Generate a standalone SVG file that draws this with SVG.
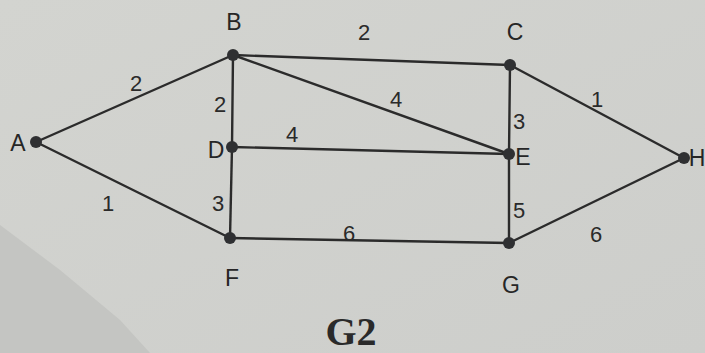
<svg xmlns="http://www.w3.org/2000/svg" width="705" height="353" viewBox="0 0 705 353">
<defs>
<linearGradient id="bg" x1="0" y1="0" x2="1" y2="1">
<stop offset="0" stop-color="#d3d4d0"/>
<stop offset="1" stop-color="#cdcecb"/>
</linearGradient>
<style>
.e{stroke:#2b2b2b;stroke-width:2.4;fill:none;stroke-linecap:round}
.n{fill:#2f3032}
.t{font-family:"Liberation Sans",Arial,sans-serif;font-size:23px;fill:#262626;text-anchor:middle}
.w{font-family:"Liberation Sans",Arial,sans-serif;font-size:22px;fill:#2a2a2a;text-anchor:middle}
.title{font-family:"Liberation Serif","Times New Roman",serif;font-size:40px;font-weight:bold;fill:#2a2a2a;text-anchor:middle}
</style>
</defs>
<rect width="705" height="353" fill="url(#bg)"/>
<polygon points="0,225 60,270 120,320 150,353 0,353" fill="#c4c5c2"/>
<g id="connectors">
<line class="e" x1="36" y1="142" x2="233" y2="55"/>
<line class="e" x1="36" y1="142" x2="230" y2="238"/>
<line class="e" x1="233" y1="55" x2="510" y2="65"/>
<line class="e" x1="233" y1="55" x2="232" y2="147"/>
<line class="e" x1="233" y1="55" x2="509" y2="154"/>
<line class="e" x1="232" y1="147" x2="509" y2="154"/>
<line class="e" x1="232" y1="147" x2="230" y2="238"/>
<line class="e" x1="230" y1="238" x2="509" y2="243"/>
<line class="e" x1="510" y1="65" x2="509" y2="154"/>
<line class="e" x1="509" y1="154" x2="509" y2="243"/>
<line class="e" x1="510" y1="65" x2="684" y2="158"/>
<line class="e" x1="509" y1="243" x2="684" y2="158"/>
<text class="w" x="136" y="91">2</text>
<text class="w" x="108" y="211">1</text>
<text class="w" x="364" y="40">2</text>
<text class="w" x="220" y="112">2</text>
<text class="w" x="396" y="107">4</text>
<text class="w" x="292" y="142">4</text>
<text class="w" x="218" y="211">3</text>
<text class="w" x="349" y="241">6</text>
<text class="w" x="519" y="129">3</text>
<text class="w" x="519" y="218">5</text>
<text class="w" x="597" y="107">1</text>
<text class="w" x="596" y="242">6</text>
</g>
<g id="A"><circle class="n" cx="36" cy="142" r="6"/><text class="t" x="18" y="151">A</text></g>
<g id="B"><circle class="n" cx="233" cy="55" r="6"/><text class="t" x="234" y="30">B</text></g>
<g id="C"><circle class="n" cx="510" cy="65" r="6"/><text class="t" x="515" y="40">C</text></g>
<g id="D"><circle class="n" cx="232" cy="147" r="6"/><text class="t" x="216" y="158">D</text></g>
<g id="E"><circle class="n" cx="509" cy="154" r="6"/><text class="t" x="523" y="165">E</text></g>
<g id="F"><circle class="n" cx="230" cy="238" r="6"/><text class="t" x="232" y="286">F</text></g>
<g id="G"><circle class="n" cx="509" cy="243" r="6"/><text class="t" x="511" y="293">G</text></g>
<g id="H"><circle class="n" cx="684" cy="158" r="6"/><text class="t" x="697" y="166" font-size="20">H</text></g>
<text class="title" x="351" y="345">G2</text>
</svg>
